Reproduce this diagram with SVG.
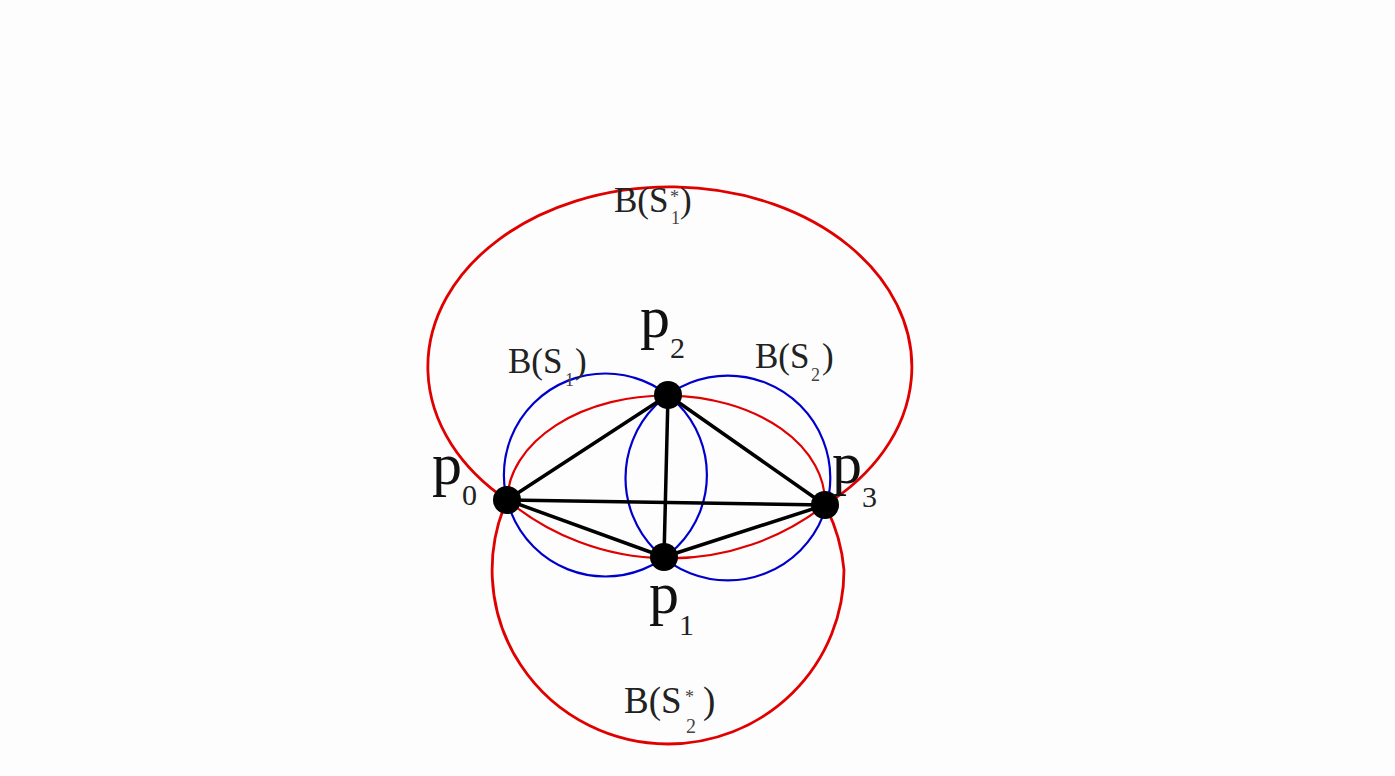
<svg xmlns="http://www.w3.org/2000/svg" width="1395" height="776" viewBox="0 0 1395 776">
<style>
.bg{fill:#fdfdfd}
.red{fill:none;stroke:#e00000;stroke-width:2.2}
.redb{fill:none;stroke:#e00000;stroke-width:2.8}
.blue{fill:none;stroke:#0000cc;stroke-width:2.2}
.edge{stroke:#000;stroke-width:3.5;stroke-linecap:round}
.dot{fill:#000}
.pl{font-family:"Liberation Serif","Times New Roman",serif;font-size:60px;fill:#111}
.ps{font-family:"Liberation Serif","Times New Roman",serif;font-size:30px;fill:#222}
.bl{font-family:"Liberation Serif","Times New Roman",serif;font-size:35px;fill:#222}
.bs{font-family:"Liberation Serif","Times New Roman",serif;font-size:18px;fill:#444}
</style>
<rect class="bg" x="0" y="0" width="1395" height="776"/>
<g id="balls">
  <path id="B_S1star" class="redb" d="M507,500 A242,180 0 1 1 825,505"/>
  <path id="B_S2star" class="redb" d="M507,500 A176,174 0 0 0 668,744 A176,174 0 0 0 844,570 A176,174 0 0 0 825,505"/>
  <path id="red_top" class="red" d="M507,500 A159,107 0 0 1 825,505"/>
  <path id="red_bottom" class="red" d="M507,500 A254,254 0 0 0 825,505"/>
  <circle id="B_S1" class="blue" cx="605.4" cy="475" r="101.5"/>
  <circle id="B_S2" class="blue" cx="727.9" cy="478" r="102.4"/>
</g>
<g id="connectors">
  <line class="edge" x1="507" y1="500" x2="668" y2="395"/>
  <line class="edge" x1="507" y1="500" x2="825" y2="505"/>
  <line class="edge" x1="507" y1="500" x2="664" y2="557"/>
  <line class="edge" x1="668" y1="395" x2="664" y2="557"/>
  <line class="edge" x1="668" y1="395" x2="825" y2="505"/>
  <line class="edge" x1="664" y1="557" x2="825" y2="505"/>
</g>
<g id="p0"><circle class="dot" cx="507" cy="500" r="14"/><text class="pl" x="432" y="484">p</text><text class="ps" x="462" y="505">0</text></g>
<g id="p1"><circle class="dot" cx="664" cy="557" r="14"/><text class="pl" x="649" y="613">p</text><text class="ps" x="679" y="635">1</text></g>
<g id="p2"><circle class="dot" cx="668" cy="395" r="14"/><text class="pl" x="640" y="337">p</text><text class="ps" x="670" y="358">2</text></g>
<g id="p3"><circle class="dot" cx="825" cy="505" r="14"/><text class="pl" x="832" y="483">p</text><text class="ps" x="862" y="507">3</text></g>
<g id="labels">
  <text class="bl" x="508" y="373">B(S</text><text class="bs" x="565" y="386">1</text><text class="bl" x="575" y="373">)</text>
  <text class="bl" x="755" y="368">B(S</text><text class="bs" x="811" y="381">2</text><text class="bl" x="822" y="368">)</text>
  <text class="bl" x="614" y="212">B(S</text><text class="bs" x="670" y="203">*</text><text class="bs" x="671" y="224">1</text><text class="bl" x="680" y="212">)</text>
  <text class="bl" x="624" y="713" style="font-size:37px">B(S</text><text class="bs" x="685" y="703">*</text><text class="bs" x="686" y="733" style="font-size:20px">2</text><text class="bl" x="703" y="713" style="font-size:37px">)</text>
</g>
</svg>
